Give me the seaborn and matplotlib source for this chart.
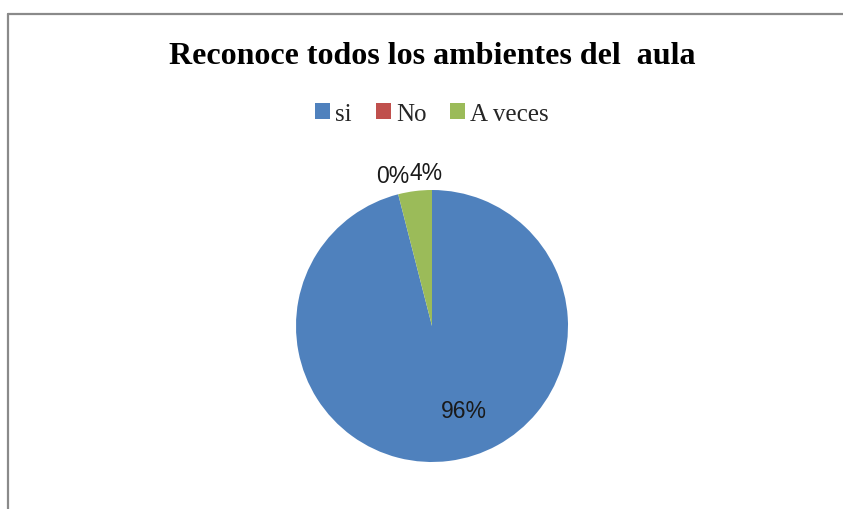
import matplotlib
matplotlib.use("Agg")
import matplotlib.pyplot as plt
import seaborn as sns
from matplotlib.lines import Line2D
from matplotlib.patches import Patch

# --- data ---
categories = ["si", "No", "A veces"]
values = [96, 0, 4]
pct_labels = ["96%", "0%", "4%"]
colors = ["#4F81BD", "#C0504D", "#9BBB59"]
title = "Reconoce todos los ambientes del  aula"

sns.set_theme(style="white")
plt.rcParams["font.family"] = ["Liberation Serif", "DejaVu Serif"]

W, H = 843, 510
fig = plt.figure(figsize=(W / 100, H / 100), dpi=100)
fig.patch.set_facecolor("white")

# chart frame (top and left edges visible in the crop)
fig.add_artist(Line2D([8 / W, 1.0], [1 - 15 / H, 1 - 15 / H], color="#8a8a8a", lw=1.6))
fig.add_artist(Line2D([8 / W, 8 / W], [0.0, 1 - 15 / H], color="#8a8a8a", lw=1.6))

# pie axes: centre (432, 327), radius 136 px
r = 136
cx, cy = 432, 327
ax = fig.add_axes([(cx - r) / W, 1 - (cy + r) / H, 2 * r / W, 2 * r / H])
wedges, _ = ax.pie(values, colors=colors, startangle=90, counterclock=False,
                   radius=1.0, wedgeprops=dict(linewidth=0))
ax.set_xlim(-1, 1)
ax.set_ylim(-1, 1)
ax.set_aspect("equal")
ax.axis("off")

# data labels where Excel put them (axes data units, radius = 1)
label_pos = [(0.235, -0.625), (-0.285, 1.11), (-0.045, 1.13)]
for txt, (x, y) in zip(pct_labels, label_pos):
    ax.text(x, y, txt, ha="center", va="center", fontsize=16.5,
            family=["Liberation Sans", "DejaVu Sans"], color="#1a1a1a", clip_on=False)

fig.text(cx / W, 1 - 56 / H, title, ha="center", va="center",
         fontsize=23, fontweight="bold", color="black")

handles = [Patch(facecolor=c, edgecolor="none") for c in colors]
fig.legend(handles, categories, loc="center", bbox_to_anchor=(cx / W, 1 - 115 / H),
           ncol=3, frameon=False, fontsize=18, handlelength=0.6, handleheight=0.6,
           handletextpad=0.2, columnspacing=0.95)

fig.savefig("out.png", dpi=100, facecolor="white")
